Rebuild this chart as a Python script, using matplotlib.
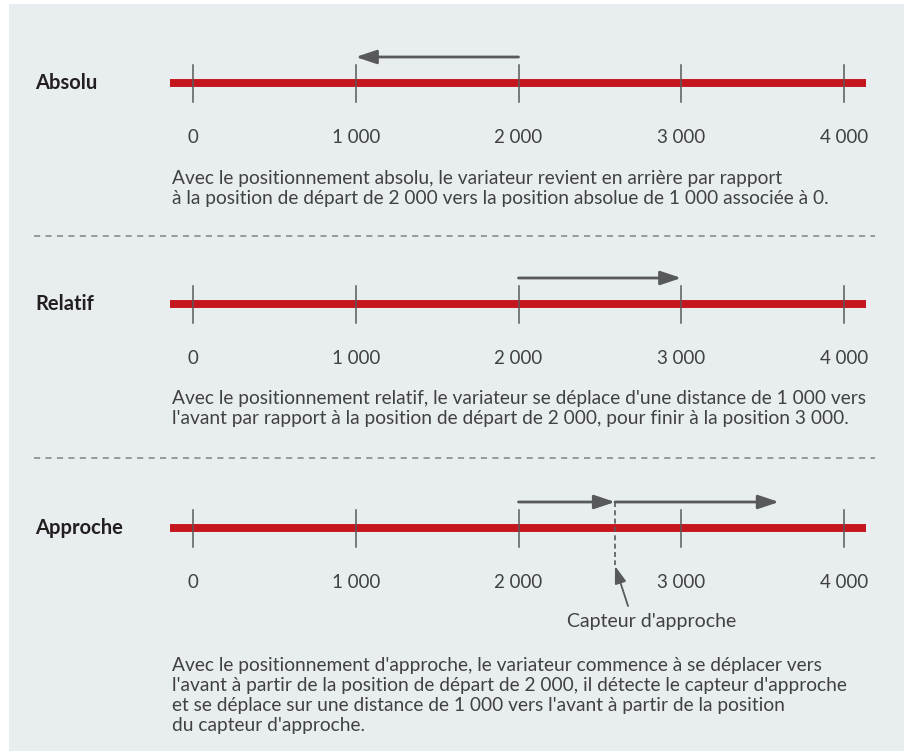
import matplotlib.pyplot as plt
from matplotlib.patches import Rectangle

# data (positions in drive units)
ticks = [0, 1000, 2000, 3000, 4000]
tick_labels = ['0', '1 000', '2 000', '3 000', '4 000']
line_start = -140
line_end = 4135

modes = ['Absolu', 'Relatif', 'Approche']
# arrows per mode: list of (start, end)
arrows = {
    'Absolu': [(2000, 1000)],
    'Relatif': [(2000, 3000)],
    'Approche': [(2000, 2593), (2593, 3600)],
}
sensor_pos = 2593
sensor_label = "Capteur d'approche"

texts = {
    'Absolu': ["Avec le positionnement absolu, le variateur revient en arrière par rapport",
               "à la position de départ de 2 000 vers la position absolue de 1 000 associée à 0."],
    'Relatif': ["Avec le positionnement relatif, le variateur se déplace d'une distance de 1 000 vers",
                "l'avant par rapport à la position de départ de 2 000, pour finir à la position 3 000."],
    'Approche': ["Avec le positionnement d'approche, le variateur commence à se déplacer vers",
                 "l'avant à partir de la position de départ de 2 000, il détecte le capteur d'approche",
                 "et se déplace sur une distance de 1 000 vers l'avant à partir de la position",
                 "du capteur d'approche."],
}

# layout rows (pixel rows of the original picture)
row_y = {'Absolu': 83, 'Relatif': 304, 'Approche': 528}
text_y = {'Absolu': 184, 'Relatif': 404, 'Approche': 671}
sep_y = [236, 458]

RED = '#c4161c'
GREY = '#58595b'
TXT = '#414143'
BG = '#e8edf0'

plt.rcParams['font.family'] = ['Lato', 'DejaVu Sans']

fig = plt.figure(figsize=(9.11, 7.51), dpi=100)
ax = fig.add_axes([0, 0, 1, 1])
px = 4000 / 651.0  # drive units per pixel
ax.set_xlim(-193 * px, (911 - 193) * px)
ax.set_ylim(751, 0)
ax.axis('off')

ax.add_patch(Rectangle((-184 * px, 4), 895 * px, 760, facecolor=BG, edgecolor='none', zorder=0))

for m in modes:
    y = row_y[m]
    ax.plot([line_start, line_end], [y, y], color=RED, lw=5.7, solid_capstyle='butt', zorder=2)
    for t in ticks:
        ax.plot([t, t], [y - 18, y + 19], color=GREY, lw=1.1, zorder=3)
    for t, lab in zip(ticks, tick_labels):
        ax.text(t, y + 60, lab, ha='center', va='baseline', fontsize=13.5, color=TXT)
    ax.text(-158 * px, y, m, ha='left', va='center', fontsize=14.5,
            fontweight='bold', color='#231f20')
    for a, b in arrows[m]:
        ax.annotate('', xy=(b, y - 26), xytext=(a, y - 26),
                    arrowprops=dict(arrowstyle='-|>,head_length=1.25,head_width=0.42',
                                    color=GREY, lw=2, shrinkA=0, shrinkB=0), zorder=4)
    for i, line in enumerate(texts[m]):
        ax.text(-21 * px, text_y[m] + 20 * i, line, ha='left', va='baseline',
                fontsize=13.8, color=TXT)

# sensor marker
ys = row_y['Approche']
ax.plot([sensor_pos, sensor_pos], [ys - 26, ys + 37], color=GREY, lw=1.2, ls=(0, (3, 2)), zorder=3)
ax.annotate('', xy=(sensor_pos, ys + 38), xytext=(sensor_pos + 80, ys + 78),
            arrowprops=dict(arrowstyle='-|>,head_length=1.05,head_width=0.35',
                            color=GREY, lw=1.3, shrinkA=0, shrinkB=0))
ax.text(sensor_pos + 225, ys + 99, sensor_label, ha='center', va='baseline', fontsize=14,
        color=TXT)

for y in sep_y:
    ax.plot([-159 * px, 682 * px], [y, y], color='#808285', lw=1.1, ls=(0, (4, 3.5)))

fig.savefig('out.png', dpi=100)
